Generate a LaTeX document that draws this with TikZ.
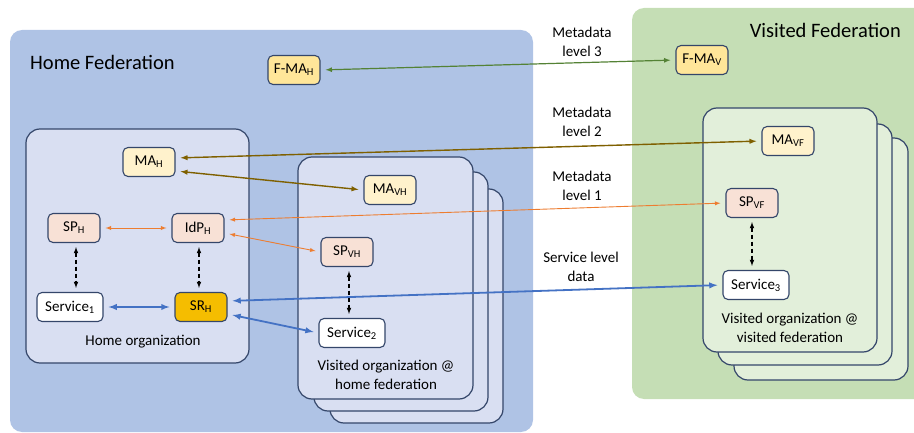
\documentclass[tikz,border=0pt]{standalone}
\usepackage{fontspec}
\setmainfont{Carlito}
\usetikzlibrary{positioning,arrows}
\definecolor{homefed}{HTML}{AFC3E5}
\definecolor{homeorg}{HTML}{D9DFF2}
\definecolor{visfed}{HTML}{C5DEB5}
\definecolor{visorg}{HTML}{E2EFDA}
\definecolor{edge}{HTML}{34466A}
\definecolor{fmafill}{HTML}{FFE699}
\definecolor{mafill}{HTML}{FFF2CC}
\definecolor{spfill}{HTML}{F8E1D6}
\definecolor{srfill}{HTML}{F5BD00}
\definecolor{lvlthree}{HTML}{548235}
\definecolor{lvltwo}{HTML}{7F6000}
\definecolor{lvlone}{HTML}{ED7D31}
\definecolor{svcdata}{HTML}{4472C4}
\tikzset{
fedbox/.style={rounded corners=12pt},
orgbox/.style={
  draw=edge,
  line width=1.2pt,
  rounded corners=14pt
  },
entity/.style={
  draw=edge,
  line width=1.1pt,
  rounded corners=5pt,
  minimum height=29pt,
  minimum width=52pt,
  inner sep=2pt,
  font=\fontsize{15}{17}\selectfont
  },
txt/.style={
  align=center,
  inner sep=0pt,
  font=\fontsize{15}{19}\selectfont
  },
title/.style={
  inner sep=0pt,
  font=\fontsize{20.5}{24}\selectfont
  }
}

\begin{document}
\begin{tikzpicture}[>=latex, x=1pt, y=-1pt]
\path[use as bounding box, clip] (0,0) rectangle (914,433);

% federations
\fill[homefed, fedbox] (10,30) rectangle (533,432);
\fill[visfed, fedbox] (632,8) rectangle (940,399);
\node[title, anchor=west] (homefedtitle) at (30,62) {Home Federation};
\node[title, anchor=east] (visfedtitle) at (901,30) {Visited Federation};

% organizations
\filldraw[orgbox, fill=homeorg] (26,129) rectangle (249,363);
\filldraw[orgbox, fill=homeorg] (330,189) rectangle (503,423);
\filldraw[orgbox, fill=homeorg] (314,172) rectangle (488,411);
\filldraw[orgbox, fill=homeorg] (298,157) rectangle (473,399);
\filldraw[orgbox, fill=visorg] (734,138) rectangle (908,380);
\filldraw[orgbox, fill=visorg] (718,124) rectangle (892,365);
\filldraw[orgbox, fill=visorg] (703,108) rectangle (877,352);

\node[txt] (homeorg) at (143,342) {Home organization};
\node[txt] (vishome) at (386,375) {Visited organization @\\home federation};
\node[txt] (visvis) at (790,328) {Visited organization @\\visited federation};

% entities
\node[entity, fill=fmafill] (fmah) at (294,70) {F-MA\textsubscript{H}};
\node[entity, fill=fmafill] (fmav) at (702,60) {F-MA\textsubscript{V}};
\node[entity, fill=mafill] (mah) at (149,162) {MA\textsubscript{H}};
\node[entity, fill=mafill] (mavh) at (390,190) {MA\textsubscript{VH}};
\node[entity, fill=mafill] (mavf) at (788,141) {MA\textsubscript{VF}};
\node[entity, fill=spfill] (sph) at (74,228) {SP\textsubscript{H}};
\node[entity, fill=spfill] (idph) at (198,228) {IdP\textsubscript{H}};
\node[entity, fill=spfill] (spvh) at (347,252) {SP\textsubscript{VH}};
\node[entity, fill=spfill] (spvf) at (752,203) {SP\textsubscript{VF}};
\node[entity, fill=white, minimum width=66pt] (svc1) at (70,307) {Service\textsubscript{1}};
\node[entity, fill=srfill] (srh) at (201,307) {SR\textsubscript{H}};
\node[entity, fill=white, minimum width=66pt] (svc2) at (352,333) {Service\textsubscript{2}};
\node[entity, fill=white, minimum width=66pt] (svc3) at (756,285) {Service\textsubscript{3}};

% levels
\node[txt] (lvl3) at (582,42) {Metadata\\level 3};
\node[txt] (lvl2) at (582,122) {Metadata\\level 2};
\node[txt] (lvl1) at (582,186) {Metadata\\level 1};
\node[txt] (lvl0) at (581,267) {Service level\\data};

\begin{scope}[shorten <=5pt, shorten >=5pt]
\draw[<->, lvlthree, line width=1.2pt]
  (fmah.east) -- (fmav.west);
\draw[<->, lvltwo, line width=1.4pt]
  ([yshift=4pt]mah.east) -- (mavf.west);
\draw[<->, lvltwo, line width=1.4pt]
  ([yshift=-9pt]mah.east) -- (mavh.west);
\draw[<->, lvlone, line width=0.9pt]
  (sph.east) -- (idph.west);
\draw[<->, lvlone, line width=0.9pt]
  ([yshift=8pt]idph.east) -- (spvf.west);
\draw[<->, lvlone, line width=0.9pt]
  ([yshift=-5pt]idph.east) -- (spvh.west);
\draw[<->, svcdata, line width=1.8pt]
  (svc1.east) -- (srh.west);
\draw[<->, svcdata, line width=1.8pt]
  ([yshift=6pt]srh.east) -- (svc3.west);
\draw[<->, svcdata, line width=1.8pt]
  ([yshift=-7pt]srh.east) -- (svc2.west);
\end{scope}

\begin{scope}[shorten <=4pt, shorten >=4pt, dash pattern=on 4pt off 3pt, line width=1.1pt]
\draw[<->] ([xshift=2pt]sph.south) -- ([xshift=2pt]sph.south |- svc1.north);
\draw[<->] ([xshift=1pt]idph.south) -- ([xshift=1pt]idph.south |- srh.north);
\draw[<->] ([xshift=2pt]spvh.south) -- ([xshift=2pt]spvh.south |- svc2.north);
\draw[<->] (spvf.south) -- (spvf.south |- svc3.north);
\end{scope}
\end{tikzpicture}
\end{document}
